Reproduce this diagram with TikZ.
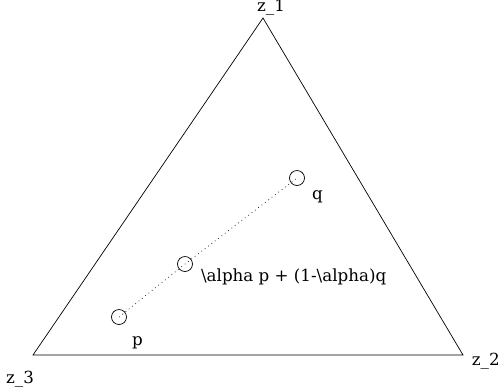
\documentclass[tikz,border=0pt]{standalone}
\usepackage{fontspec}
\setmainfont{DejaVu Serif}
\usepackage{tikz}
\usetikzlibrary{positioning, calc}

\begin{document}
\begin{tikzpicture}[
    x=0.02cm, y=-0.02cm,
    pt/.style={circle, draw, minimum size=0.3cm, inner sep=0pt},
    lbl/.style={font=\fontsize{9.5}{11}\selectfont, inner sep=1pt},
    edge/.style={thin},
]
    \useasboundingbox (0,0) rectangle (501,387);

    % ── Simplex ───────────────────────────────────
    \coordinate (z1) at (263,18);
    \coordinate (z2) at (463,355);
    \coordinate (z3) at (33,355);
    \draw[edge] (z1) -- (z2) -- (z3) -- cycle;

    \node[lbl, anchor=base] (z1lbl) at (271,11) {z\_1};
    \node[lbl, anchor=base east, inner sep=0pt] (z2lbl) at (500,365) {z\_2};
    \node[lbl, anchor=base west] (z3lbl) at (4,383) {z\_3};

    % ── Points ────────────────────────────────────
    \node[pt] (p) at (119,317) {};
    \node[pt] (m) at (185,264) {};
    \node[pt] (q) at (297,178) {};
    \draw[dotted] (p.center) -- (m.center) -- (q.center);

    \node[lbl, anchor=base west] (plbl) at (130,345) {p};
    \node[lbl, anchor=base west] (mlbl) at (199,281) {\textbackslash alpha p + (1-\textbackslash alpha)q};
    \node[lbl, anchor=base west] (qlbl) at (310,199) {q};
\end{tikzpicture}
\end{document}
